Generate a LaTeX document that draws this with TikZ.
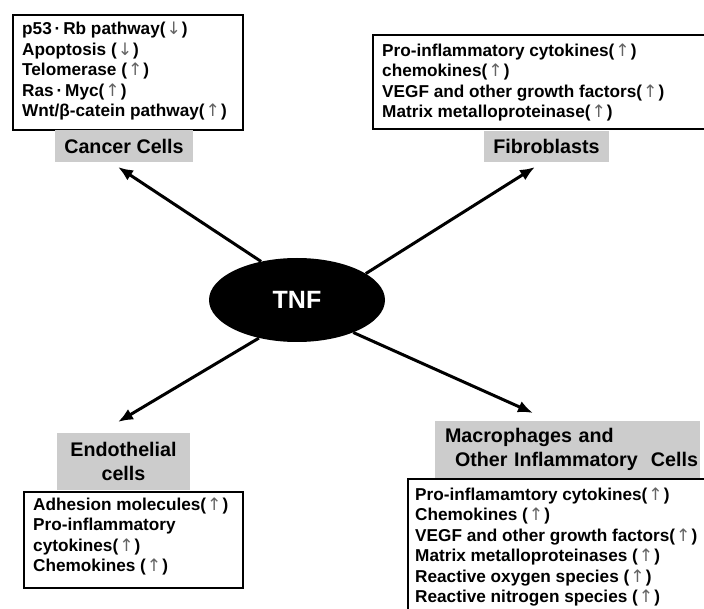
\documentclass[tikz,border=0pt]{standalone}
\usepackage{fontspec}
\setmainfont{Liberation Sans}
\newfontfamily\arwfont{DejaVu Sans}
\usetikzlibrary{arrows.meta,shapes.geometric}
\definecolor{labelgray}{RGB}{204,204,204}
\definecolor{arwgray}{RGB}{100,100,100}
\newcommand{\myup}{\kern1pt{\arwfont\mdseries\color{arwgray}↑}\kern1pt}
\newcommand{\mydown}{\kern1pt{\arwfont\mdseries\color{arwgray}↓}\kern1pt}
\begin{document}
\begin{tikzpicture}[x=1pt,y=-1pt,
  listbox/.style={draw=black, line width=1.6pt, anchor=north west, inner sep=0pt},
  listtext/.style={anchor=north west, inner sep=0pt, align=left, font=\bfseries\fontsize{17.2}{20.5}\selectfont},
  graylabel/.style={fill=labelgray, inner sep=0pt, font=\bfseries\fontsize{19.7}{23.5}\selectfont},
  conn/.style={line width=3pt, -{Latex[length=15pt,width=12pt]}}]
\useasboundingbox (0,0) rectangle (704,609);
% list boxes
\node[listbox, minimum width=230pt, minimum height=115pt] (cbox) at (12,14) {};
\node[listtext] (ctext) at (22,20.2) {\strut p53\,·\,Rb pathway(\mydown)\\ Apoptosis (\mydown)\\ Telomerase (\myup)\\ Ras\,·\,Myc(\myup)\\ Wnt/β-catein pathway(\myup)};
\node[listbox, minimum width=338pt, minimum height=94pt] (fbox) at (372,34) {};
\node[listtext] (ftext) at (382,41.7) {\strut Pro-inflammatory cytokines(\myup)\\ chemokines(\myup)\\ VEGF and other growth factors(\myup)\\ Matrix metalloproteinase(\myup)};
% gray labels
\node[graylabel, minimum width=138pt, minimum height=32pt] (clabel) at (124,146) {Cancer Cells};
\node[graylabel, minimum width=125pt, minimum height=31pt] (flabel) at (546.5,146.5) {Fibroblasts};
\node[graylabel, minimum width=133pt, minimum height=57pt, align=center] (elabel) at (123.5,461.5) {Endothelial\\cells};
\node[graylabel, minimum width=265pt, minimum height=57pt, text width=262pt, align=left] (mlabel) at (567.5,449.5) {\hspace*{8.5pt}Macrophages and\\\mbox{\hspace*{18.5pt}Other Inflammatory\ \ Cells}};
\node[listbox, minimum width=219pt, minimum height=96pt] (ebox) at (23,491) {};
\node[listtext] (etext) at (33,495.7) {\strut Adhesion molecules(\myup)\\ Pro-inflammatory\\ cytokines(\myup)\\ Chemokines (\myup)};
\node[listbox, minimum width=310pt, minimum height=140pt] (mbox) at (407,478) {};
\node[listtext] (mtext) at (415,485.7) {\strut Pro-inflamamtory cytokines(\myup)\\ Chemokines (\myup)\\ VEGF and other growth factors(\myup)\\ Matrix metalloproteinases (\myup)\\ Reactive oxygen species (\myup)\\ Reactive nitrogen species (\myup)};
% TNF
\node[ellipse, fill=black, minimum width=176pt, minimum height=84pt, inner sep=0pt, text=white, font=\bfseries\fontsize{25}{30}\selectfont] (tnf) at (297,300) {TNF};
% arrows
\coordinate (ctip) at (118,167);
\coordinate (ftip) at (535,167);
\coordinate (etip) at (118,422);
\coordinate (mtip) at (533,413);
\draw[conn] (tnf.133) -- (ctip);
\draw[conn] (tnf.21) -- (ftip);
\draw[conn] (tnf.225) -- (etip);
\draw[conn] (tnf.330) -- (mtip);
\end{tikzpicture}
\end{document}
